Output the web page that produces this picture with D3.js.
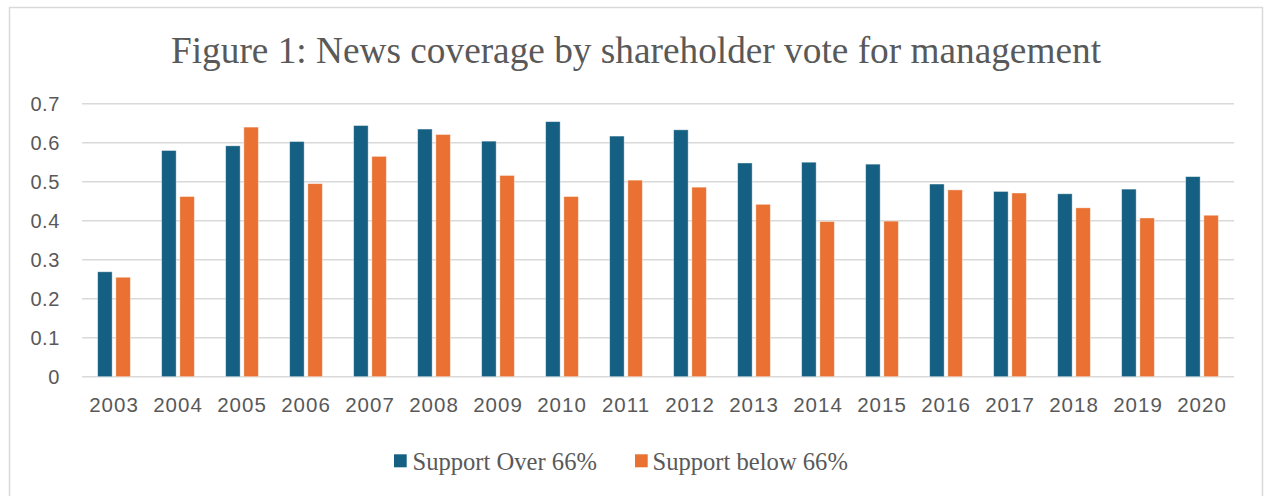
<!DOCTYPE html>
<html>
<head>
<meta charset="utf-8">
<script src="https://cdn.jsdelivr.net/npm/d3@7"></script>
<style>
  html, body { margin: 0; padding: 0; background: #fff; }
  svg { display: block; }
</style>
</head>
<body>
<svg id="chart" width="1264" height="496"></svg>
<script>
const years = ["2003","2004","2005","2006","2007","2008","2009","2010","2011","2012","2013","2014","2015","2016","2017","2018","2019","2020"];
const supportOver66 = [0.269,0.580,0.592,0.603,0.644,0.635,0.604,0.654,0.617,0.633,0.548,0.550,0.545,0.494,0.475,0.469,0.481,0.513];
const supportBelow66 = [0.255,0.462,0.640,0.495,0.565,0.621,0.516,0.462,0.504,0.486,0.442,0.398,0.399,0.479,0.471,0.433,0.407,0.414];
const yTicks = [0,0.1,0.2,0.3,0.4,0.5,0.6,0.7];
const seriesNames = ["Support Over 66%","Support below 66%"];
const titleText = "Figure 1: News coverage by shareholder vote for management";

(function(){
const colors = ["#156082","#E97132"];
const svg = d3.select("#chart");

svg.append("rect").attr("x",9.5).attr("y",7.5).attr("width",1253).attr("height",500)
  .attr("fill","#fff").attr("stroke","#d9d9d9").attr("stroke-width",1.5);

const pLeft = 82, pRight = 1234, pTop = 103.7, pBottom = 376.7;
const x = d3.scaleBand().domain(years).range([pLeft,pRight]).paddingInner(0).paddingOuter(0);
const y = d3.scaleLinear().domain([0,0.7]).range([pBottom,pTop]);

svg.append("text").attr("x",636).attr("y",63).attr("text-anchor","middle")
  .attr("font-family","'Liberation Serif','Times New Roman',serif").attr("font-size",37.3)
  .attr("fill","#595959").text(titleText);

// gridlines
svg.append("g").selectAll("line").data(yTicks).join("line")
  .attr("x1",pLeft).attr("x2",pRight).attr("y1",d=>y(d)).attr("y2",d=>y(d))
  .attr("stroke","#d9d9d9").attr("stroke-width",1.5);

// y labels via axis
const yAxis = svg.append("g").attr("transform",`translate(${pLeft},0)`)
  .call(d3.axisLeft(y).tickValues(yTicks).tickFormat(d=>d===0?"0":d3.format(".1f")(d)).tickSize(0).tickPadding(22));
yAxis.select(".domain").remove();
yAxis.selectAll("text").attr("font-family","'Liberation Sans',Arial,sans-serif").attr("font-size",20)
  .attr("fill","#595959").attr("letter-spacing",0.6);

// x labels
const xAxis = svg.append("g").attr("transform",`translate(0,${pBottom})`)
  .call(d3.axisBottom(x).tickSize(0).tickPadding(21));
xAxis.select(".domain").remove();
xAxis.selectAll("text").attr("font-family","'Liberation Sans',Arial,sans-serif").attr("font-size",20.5)
  .attr("fill","#595959").attr("letter-spacing",1.0);

// bars
const barW = 14.5, gap = 3.7;
const series = [supportOver66, supportBelow66];
series.forEach((vals, si) => {
  svg.append("g").selectAll("rect").data(years).join("rect")
    .attr("x",(d)=> x(d) + x.bandwidth()/2 - (barW*2+gap)/2 + si*(barW+gap))
    .attr("y",(d,i)=>y(vals[i]))
    .attr("width",barW)
    .attr("height",(d,i)=>y(0)-y(vals[i]))
    .attr("fill",colors[si])
    .attr("stroke","#ffffff").attr("stroke-opacity",0.5).attr("stroke-width",0.8);
});

// legend
const legendPos = [{sx:394, tx:412.5},{sx:635, tx:652.5}];
seriesNames.forEach((name,i)=>{
  svg.append("rect").attr("x",legendPos[i].sx).attr("y",454.3).attr("width",12.7).attr("height",13)
    .attr("fill",colors[i]);
  svg.append("text").attr("x",legendPos[i].tx).attr("y",470)
    .attr("font-family","'Liberation Serif','Times New Roman',serif").attr("font-size",24.6)
    .attr("fill","#595959").text(name);
});
})();
</script>
</body>
</html>
